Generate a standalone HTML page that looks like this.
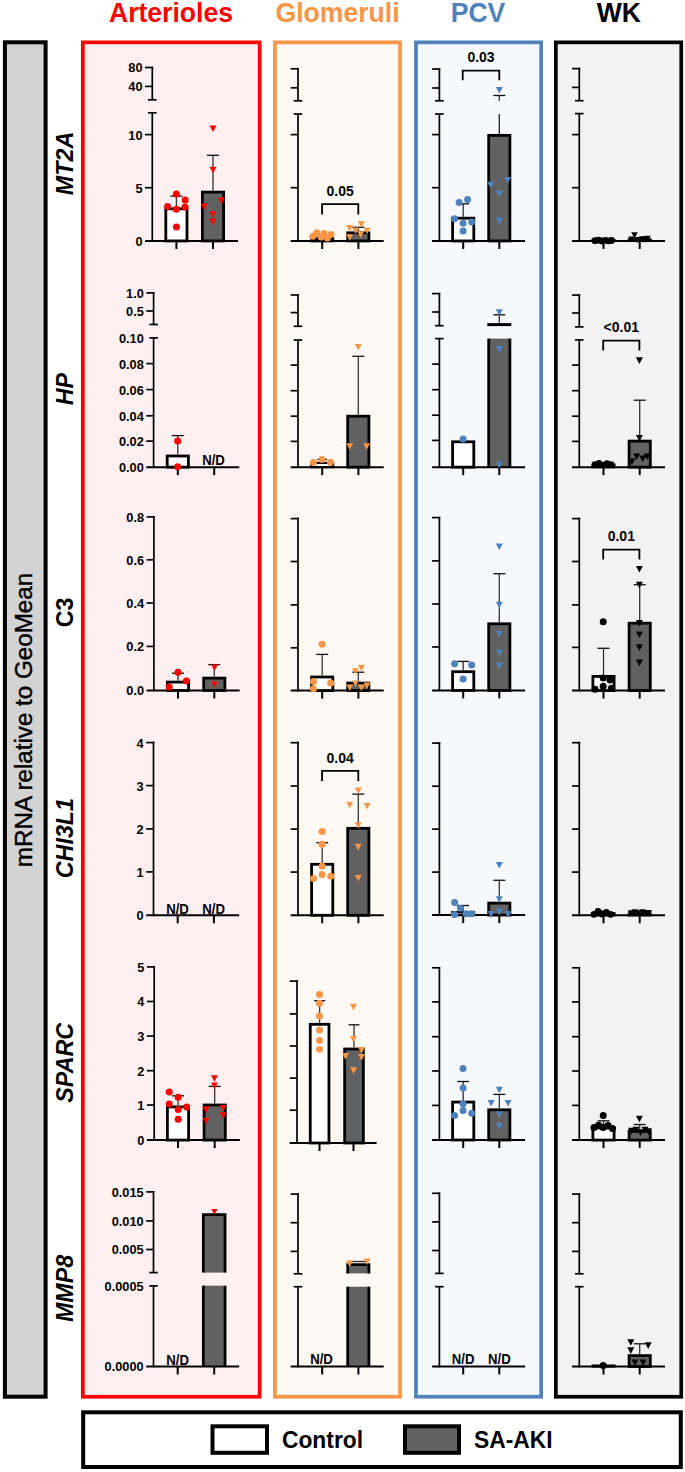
<!DOCTYPE html>
<html><head><meta charset="utf-8"><title>mRNA relative to GeoMean</title><style>
html,body{margin:0;padding:0;background:#fff;}
body{width:685px;height:1472px;overflow:hidden;}
svg{display:block;}
text{font-family:"Liberation Sans",sans-serif;}
.hd{font-size:26.6px;font-weight:bold;}
.lg{font-size:22.8px;font-weight:bold;fill:#000;}
.yl{font-size:24.2px;fill:#000;stroke:#000;stroke-width:0.45px;}
.rl{font-size:23.3px;font-weight:bold;fill:#000;}
.tk{font-size:12.8px;font-weight:bold;fill:#000;}
.pv{font-size:14px;font-weight:bold;fill:#000;}
.nd{font-size:14px;font-weight:bold;fill:#000;}
</style></head>
<body><svg width="685" height="1472" viewBox="0 0 685 1472">
<rect width="685" height="1472" fill="#fff"/>
<rect x="82.85" y="42.35" width="176.8" height="1354.3999999999999" fill="#fef0f0" stroke="#ff0000" stroke-width="3.7"/>
<rect x="274.95000000000005" y="42.35" width="125.09999999999995" height="1354.3999999999999" fill="#fef8f3" stroke="#f79646" stroke-width="3.7"/>
<rect x="415.95000000000005" y="42.35" width="125.19999999999997" height="1354.3999999999999" fill="#f6f8fc" stroke="#4f81bd" stroke-width="3.7"/>
<rect x="555.85" y="42.35" width="125.40000000000002" height="1354.3999999999999" fill="#f2f2f2" stroke="#000000" stroke-width="3.7"/>
<rect x="4.9" y="42.3" width="40.7" height="1354.4" fill="#d3d3d3" stroke="#000" stroke-width="4"/>
<rect x="83.2" y="1412.3" width="597.5999999999999" height="54.700000000000045" fill="#fff" stroke="#000" stroke-width="4"/>
<rect x="212.5" y="1426.3" width="54.5" height="26.5" fill="#fff" stroke="#000" stroke-width="4"/>
<rect x="405" y="1426.3" width="54" height="26.5" fill="#616161" stroke="#000" stroke-width="4"/>
<text transform="translate(282.00,1447.90) scale(1,1.035)" class="lg" text-anchor="start">Control</text>
<text transform="translate(474.00,1447.90) scale(1,1.035)" class="lg" text-anchor="start">SA-AKI</text>
<text transform="translate(171.00,21.60) scale(1,1.035)" class="hd" text-anchor="middle" fill="#ff0000">Arterioles</text>
<text transform="translate(337.50,21.60) scale(1,1.035)" class="hd" text-anchor="middle" fill="#f79646">Glomeruli</text>
<text transform="translate(478.00,21.60) scale(1,1.035)" class="hd" text-anchor="middle" fill="#4f81bd">PCV</text>
<text transform="translate(618.80,21.60) scale(1,1.035)" class="hd" text-anchor="middle" fill="#000000">WK</text>
<text transform="translate(32.3,720.0) rotate(-90)" class="yl" text-anchor="middle">mRNA relative to GeoMean</text>
<text transform="translate(72.5,163.5) rotate(-90)" class="rl" font-style="italic" text-anchor="middle">MT2A</text>
<text transform="translate(72.5,389.1) rotate(-90)" class="rl" font-style="italic" text-anchor="middle">HP</text>
<text transform="translate(72.5,612.4) rotate(-90)" class="rl" text-anchor="middle">C3</text>
<text transform="translate(72.5,838.1) rotate(-90)" class="rl" font-style="italic" text-anchor="middle">CHI3L1</text>
<text transform="translate(72.5,1062.8) rotate(-90)" class="rl" font-style="italic" text-anchor="middle">SPARC</text>
<text transform="translate(72.5,1288.4) rotate(-90)" class="rl" font-style="italic" text-anchor="middle">MMP8</text>
<rect x="165.80" y="208.80" width="21.20" height="32.15" fill="#ffffff" stroke="#000" stroke-width="2.8"/>
<rect x="202.40" y="192.10" width="21.20" height="48.85" fill="#616161" stroke="#000" stroke-width="2.8"/>
<line x1="152.30" y1="112.80" x2="152.30" y2="241.80" stroke="#000" stroke-width="1.7"/>
<line x1="148.00" y1="112.80" x2="156.60" y2="112.80" stroke="#000" stroke-width="1.7"/>
<line x1="145.00" y1="134.60" x2="152.30" y2="134.60" stroke="#000" stroke-width="1.7"/>
<line x1="145.00" y1="187.70" x2="152.30" y2="187.70" stroke="#000" stroke-width="1.7"/>
<line x1="152.30" y1="66.65" x2="152.30" y2="99.80" stroke="#000" stroke-width="1.7"/>
<line x1="145.00" y1="67.50" x2="153.15" y2="67.50" stroke="#000" stroke-width="1.7"/>
<line x1="145.00" y1="86.40" x2="152.30" y2="86.40" stroke="#000" stroke-width="1.7"/>
<line x1="148.00" y1="99.80" x2="156.60" y2="99.80" stroke="#000" stroke-width="1.7"/>
<line x1="145.00" y1="240.95" x2="238.00" y2="240.95" stroke="#000" stroke-width="2"/>
<text transform="translate(142.50,72.40) scale(1,1.035)" class="tk" text-anchor="end">80</text>
<text transform="translate(142.50,91.30) scale(1,1.035)" class="tk" text-anchor="end">40</text>
<text transform="translate(142.50,139.50) scale(1,1.035)" class="tk" text-anchor="end">10</text>
<text transform="translate(142.50,192.60) scale(1,1.035)" class="tk" text-anchor="end">5</text>
<text transform="translate(142.50,245.85) scale(1,1.035)" class="tk" text-anchor="end">0</text>
<line x1="176.40" y1="240.95" x2="176.40" y2="248.95" stroke="#000" stroke-width="2"/>
<line x1="213.00" y1="240.95" x2="213.00" y2="248.95" stroke="#000" stroke-width="2"/>
<line x1="176.40" y1="207.40" x2="176.40" y2="196.10" stroke="#333" stroke-width="1.3"/>
<line x1="170.40" y1="196.10" x2="182.40" y2="196.10" stroke="#111" stroke-width="1.3"/>
<line x1="213.00" y1="190.70" x2="213.00" y2="155.30" stroke="#333" stroke-width="1.3"/>
<line x1="207.00" y1="155.30" x2="219.00" y2="155.30" stroke="#111" stroke-width="1.3"/>
<circle cx="176.40" cy="193.90" r="3.5" fill="#ff0000"/>
<circle cx="185.10" cy="200.00" r="3.5" fill="#ff0000"/>
<circle cx="167.60" cy="206.60" r="3.5" fill="#ff0000"/>
<circle cx="176.40" cy="209.20" r="3.5" fill="#ff0000"/>
<circle cx="185.10" cy="207.00" r="3.5" fill="#ff0000"/>
<circle cx="176.40" cy="227.00" r="3.5" fill="#ff0000"/>
<polygon points="209.50,125.50 216.50,125.50 213.00,132.10" fill="#ff0000"/>
<polygon points="209.50,166.80 216.50,166.80 213.00,173.40" fill="#ff0000"/>
<polygon points="218.10,197.30 225.10,197.30 221.60,203.90" fill="#ff0000"/>
<polygon points="200.60,203.60 207.60,203.60 204.10,210.20" fill="#ff0000"/>
<polygon points="209.40,211.20 216.40,211.20 212.90,217.80" fill="#ff0000"/>
<polygon points="209.40,218.60 216.40,218.60 212.90,225.20" fill="#ff0000"/>
<rect x="311.60" y="238.30" width="21.20" height="2.65" fill="#ffffff" stroke="#000" stroke-width="2.8"/>
<rect x="347.70" y="232.80" width="21.20" height="8.15" fill="#616161" stroke="#000" stroke-width="2.8"/>
<line x1="298.00" y1="114.00" x2="298.00" y2="241.80" stroke="#000" stroke-width="1.7"/>
<line x1="293.70" y1="114.00" x2="302.30" y2="114.00" stroke="#000" stroke-width="1.7"/>
<line x1="290.70" y1="134.60" x2="298.00" y2="134.60" stroke="#000" stroke-width="1.7"/>
<line x1="290.70" y1="187.70" x2="298.00" y2="187.70" stroke="#000" stroke-width="1.7"/>
<line x1="298.00" y1="67.95" x2="298.00" y2="100.80" stroke="#000" stroke-width="1.7"/>
<line x1="290.70" y1="68.80" x2="298.85" y2="68.80" stroke="#000" stroke-width="1.7"/>
<line x1="290.70" y1="87.80" x2="298.00" y2="87.80" stroke="#000" stroke-width="1.7"/>
<line x1="293.70" y1="100.80" x2="302.30" y2="100.80" stroke="#000" stroke-width="1.7"/>
<line x1="290.70" y1="240.95" x2="383.70" y2="240.95" stroke="#000" stroke-width="2"/>
<line x1="322.20" y1="240.95" x2="322.20" y2="248.95" stroke="#000" stroke-width="2"/>
<line x1="358.40" y1="240.95" x2="358.40" y2="248.95" stroke="#000" stroke-width="2"/>
<line x1="358.30" y1="231.40" x2="358.30" y2="227.30" stroke="#333" stroke-width="1.3"/>
<line x1="352.30" y1="227.30" x2="364.30" y2="227.30" stroke="#111" stroke-width="1.3"/>
<circle cx="312.80" cy="236.30" r="3.5" fill="#f79646"/>
<circle cx="316.90" cy="232.80" r="3.5" fill="#f79646"/>
<circle cx="321.00" cy="236.90" r="3.5" fill="#f79646"/>
<circle cx="323.90" cy="233.40" r="3.5" fill="#f79646"/>
<circle cx="327.40" cy="238.00" r="3.5" fill="#f79646"/>
<circle cx="331.00" cy="234.50" r="3.5" fill="#f79646"/>
<polygon points="346.10,225.10 353.10,225.10 349.60,231.70" fill="#f79646"/>
<polygon points="352.00,227.40 359.00,227.40 355.50,234.00" fill="#f79646"/>
<polygon points="357.80,221.10 364.80,221.10 361.30,227.70" fill="#f79646"/>
<polygon points="363.60,227.70 370.60,227.70 367.10,234.30" fill="#f79646"/>
<polygon points="346.10,234.20 353.10,234.20 349.60,240.80" fill="#f79646"/>
<polygon points="357.20,231.30 364.20,231.30 360.70,237.90" fill="#f79646"/>
<polyline points="322.1,214.6 322.1,204.1 358.3,204.1 358.3,214.6" fill="none" stroke="#000" stroke-width="1.8"/>
<text transform="translate(340.20,196.30) scale(1,1.035)" class="pv" text-anchor="middle">0.05</text>
<rect x="452.60" y="218.20" width="21.20" height="22.75" fill="#ffffff" stroke="#000" stroke-width="2.8"/>
<rect x="488.70" y="135.40" width="21.20" height="105.55" fill="#616161" stroke="#000" stroke-width="2.8"/>
<line x1="439.40" y1="114.00" x2="439.40" y2="241.80" stroke="#000" stroke-width="1.7"/>
<line x1="435.10" y1="114.00" x2="443.70" y2="114.00" stroke="#000" stroke-width="1.7"/>
<line x1="432.10" y1="134.60" x2="439.40" y2="134.60" stroke="#000" stroke-width="1.7"/>
<line x1="432.10" y1="187.70" x2="439.40" y2="187.70" stroke="#000" stroke-width="1.7"/>
<line x1="439.40" y1="68.15" x2="439.40" y2="100.80" stroke="#000" stroke-width="1.7"/>
<line x1="432.10" y1="69.00" x2="440.25" y2="69.00" stroke="#000" stroke-width="1.7"/>
<line x1="432.10" y1="88.00" x2="439.40" y2="88.00" stroke="#000" stroke-width="1.7"/>
<line x1="435.10" y1="100.80" x2="443.70" y2="100.80" stroke="#000" stroke-width="1.7"/>
<line x1="432.10" y1="240.95" x2="525.10" y2="240.95" stroke="#000" stroke-width="2"/>
<line x1="463.20" y1="240.95" x2="463.20" y2="248.95" stroke="#000" stroke-width="2"/>
<line x1="499.30" y1="240.95" x2="499.30" y2="248.95" stroke="#000" stroke-width="2"/>
<line x1="463.20" y1="216.80" x2="463.20" y2="203.80" stroke="#333" stroke-width="1.3"/>
<line x1="457.20" y1="203.80" x2="469.20" y2="203.80" stroke="#111" stroke-width="1.3"/>
<line x1="499.30" y1="134.00" x2="499.30" y2="114.00" stroke="#222" stroke-width="1.3"/>
<line x1="499.30" y1="101.00" x2="499.30" y2="95.50" stroke="#333" stroke-width="1.3"/>
<line x1="493.30" y1="95.50" x2="505.30" y2="95.50" stroke="#111" stroke-width="1.3"/>
<circle cx="459.10" cy="202.50" r="3.5" fill="#4f81bd"/>
<circle cx="467.60" cy="199.40" r="3.5" fill="#4f81bd"/>
<circle cx="454.60" cy="218.80" r="3.5" fill="#4f81bd"/>
<circle cx="463.10" cy="223.30" r="3.5" fill="#4f81bd"/>
<circle cx="471.70" cy="221.90" r="3.5" fill="#4f81bd"/>
<circle cx="463.10" cy="231.10" r="3.5" fill="#4f81bd"/>
<polygon points="495.80,87.00 502.80,87.00 499.30,93.60" fill="#4f81bd"/>
<polygon points="487.20,181.80 494.20,181.80 490.70,188.40" fill="#4f81bd"/>
<polygon points="504.20,176.90 511.20,176.90 507.70,183.50" fill="#4f81bd"/>
<polygon points="495.80,190.60 502.80,190.60 499.30,197.20" fill="#4f81bd"/>
<polygon points="495.80,217.60 502.80,217.60 499.30,224.20" fill="#4f81bd"/>
<polyline points="462.7,80.3 462.7,70.7 499.3,70.7 499.3,80.3" fill="none" stroke="#000" stroke-width="1.8"/>
<text transform="translate(481.00,61.50) scale(1,1.035)" class="pv" text-anchor="middle">0.03</text>
<rect x="592.60" y="239.90" width="21.80" height="1.05" fill="#ffffff" stroke="#000" stroke-width="2.2"/>
<rect x="628.80" y="239.40" width="21.80" height="1.55" fill="#616161" stroke="#000" stroke-width="2.2"/>
<line x1="579.30" y1="113.60" x2="579.30" y2="241.80" stroke="#000" stroke-width="1.7"/>
<line x1="575.00" y1="113.60" x2="583.60" y2="113.60" stroke="#000" stroke-width="1.7"/>
<line x1="572.00" y1="134.60" x2="579.30" y2="134.60" stroke="#000" stroke-width="1.7"/>
<line x1="572.00" y1="187.70" x2="579.30" y2="187.70" stroke="#000" stroke-width="1.7"/>
<line x1="579.30" y1="67.75" x2="579.30" y2="100.70" stroke="#000" stroke-width="1.7"/>
<line x1="572.00" y1="68.60" x2="580.15" y2="68.60" stroke="#000" stroke-width="1.7"/>
<line x1="572.00" y1="87.40" x2="579.30" y2="87.40" stroke="#000" stroke-width="1.7"/>
<line x1="575.00" y1="100.70" x2="583.60" y2="100.70" stroke="#000" stroke-width="1.7"/>
<line x1="572.00" y1="240.95" x2="665.00" y2="240.95" stroke="#000" stroke-width="2"/>
<line x1="603.50" y1="240.95" x2="603.50" y2="248.95" stroke="#000" stroke-width="2"/>
<line x1="639.70" y1="240.95" x2="639.70" y2="248.95" stroke="#000" stroke-width="2"/>
<circle cx="595.00" cy="240.70" r="3.4" fill="#000000"/>
<circle cx="598.50" cy="240.20" r="3.4" fill="#000000"/>
<circle cx="602.00" cy="241.00" r="3.4" fill="#000000"/>
<circle cx="605.50" cy="240.30" r="3.4" fill="#000000"/>
<circle cx="608.50" cy="240.80" r="3.4" fill="#000000"/>
<circle cx="611.50" cy="240.50" r="3.4" fill="#000000"/>
<polygon points="631.20,232.20 637.80,232.20 634.50,238.20" fill="#000000"/>
<polygon points="628.20,236.50 634.80,236.50 631.50,242.50" fill="#000000"/>
<polygon points="634.20,237.00 640.80,237.00 637.50,243.00" fill="#000000"/>
<polygon points="639.20,236.20 645.80,236.20 642.50,242.20" fill="#000000"/>
<polygon points="644.20,235.80 650.80,235.80 647.50,241.80" fill="#000000"/>
<polygon points="641.20,236.70 647.80,236.70 644.50,242.70" fill="#000000"/>
<rect x="167.20" y="456.00" width="21.20" height="11.15" fill="#ffffff" stroke="#000" stroke-width="2.8"/>
<line x1="153.60" y1="337.90" x2="153.60" y2="468.00" stroke="#000" stroke-width="1.7"/>
<line x1="149.30" y1="337.90" x2="157.90" y2="337.90" stroke="#000" stroke-width="1.7"/>
<line x1="146.30" y1="363.60" x2="153.60" y2="363.60" stroke="#000" stroke-width="1.7"/>
<line x1="146.30" y1="389.60" x2="153.60" y2="389.60" stroke="#000" stroke-width="1.7"/>
<line x1="146.30" y1="415.80" x2="153.60" y2="415.80" stroke="#000" stroke-width="1.7"/>
<line x1="146.30" y1="441.10" x2="153.60" y2="441.10" stroke="#000" stroke-width="1.7"/>
<line x1="153.60" y1="292.05" x2="153.60" y2="324.50" stroke="#000" stroke-width="1.7"/>
<line x1="146.30" y1="292.90" x2="154.45" y2="292.90" stroke="#000" stroke-width="1.7"/>
<line x1="146.30" y1="311.00" x2="153.60" y2="311.00" stroke="#000" stroke-width="1.7"/>
<line x1="149.30" y1="324.50" x2="157.90" y2="324.50" stroke="#000" stroke-width="1.7"/>
<line x1="146.30" y1="467.15" x2="239.30" y2="467.15" stroke="#000" stroke-width="2"/>
<text transform="translate(143.80,297.80) scale(1,1.035)" class="tk" text-anchor="end">1.0</text>
<text transform="translate(143.80,315.90) scale(1,1.035)" class="tk" text-anchor="end">0.5</text>
<text transform="translate(143.80,342.80) scale(1,1.035)" class="tk" text-anchor="end">0.10</text>
<text transform="translate(143.80,368.50) scale(1,1.035)" class="tk" text-anchor="end">0.08</text>
<text transform="translate(143.80,394.50) scale(1,1.035)" class="tk" text-anchor="end">0.06</text>
<text transform="translate(143.80,420.70) scale(1,1.035)" class="tk" text-anchor="end">0.04</text>
<text transform="translate(143.80,446.00) scale(1,1.035)" class="tk" text-anchor="end">0.02</text>
<text transform="translate(143.80,472.05) scale(1,1.035)" class="tk" text-anchor="end">0.00</text>
<line x1="177.80" y1="467.15" x2="177.80" y2="475.15" stroke="#000" stroke-width="2"/>
<line x1="214.20" y1="467.15" x2="214.20" y2="475.15" stroke="#000" stroke-width="2"/>
<line x1="177.80" y1="454.60" x2="177.80" y2="435.60" stroke="#333" stroke-width="1.3"/>
<line x1="171.80" y1="435.60" x2="183.80" y2="435.60" stroke="#111" stroke-width="1.3"/>
<circle cx="177.70" cy="440.90" r="3.5" fill="#ff0000"/>
<circle cx="177.70" cy="466.70" r="3.5" fill="#ff0000"/>
<text transform="translate(213.50,464.50) scale(1,1.035)" class="nd" text-anchor="middle" textLength="22.7" lengthAdjust="spacingAndGlyphs">N/D</text>
<rect x="311.30" y="462.90" width="21.80" height="4.25" fill="#ffffff" stroke="#000" stroke-width="2.2"/>
<rect x="347.70" y="416.20" width="21.20" height="50.95" fill="#616161" stroke="#000" stroke-width="2.8"/>
<line x1="298.00" y1="340.00" x2="298.00" y2="468.00" stroke="#000" stroke-width="1.7"/>
<line x1="293.70" y1="340.00" x2="302.30" y2="340.00" stroke="#000" stroke-width="1.7"/>
<line x1="290.70" y1="365.10" x2="298.00" y2="365.10" stroke="#000" stroke-width="1.7"/>
<line x1="290.70" y1="390.70" x2="298.00" y2="390.70" stroke="#000" stroke-width="1.7"/>
<line x1="290.70" y1="416.20" x2="298.00" y2="416.20" stroke="#000" stroke-width="1.7"/>
<line x1="290.70" y1="441.40" x2="298.00" y2="441.40" stroke="#000" stroke-width="1.7"/>
<line x1="298.00" y1="294.15" x2="298.00" y2="326.30" stroke="#000" stroke-width="1.7"/>
<line x1="290.70" y1="295.00" x2="298.85" y2="295.00" stroke="#000" stroke-width="1.7"/>
<line x1="290.70" y1="312.60" x2="298.00" y2="312.60" stroke="#000" stroke-width="1.7"/>
<line x1="293.70" y1="326.30" x2="302.30" y2="326.30" stroke="#000" stroke-width="1.7"/>
<line x1="290.70" y1="467.15" x2="383.70" y2="467.15" stroke="#000" stroke-width="2"/>
<line x1="322.20" y1="467.15" x2="322.20" y2="475.15" stroke="#000" stroke-width="2"/>
<line x1="358.40" y1="467.15" x2="358.40" y2="475.15" stroke="#000" stroke-width="2"/>
<line x1="322.20" y1="461.80" x2="322.20" y2="459.40" stroke="#333" stroke-width="1.3"/>
<line x1="317.20" y1="459.40" x2="327.20" y2="459.40" stroke="#111" stroke-width="1.3"/>
<line x1="358.30" y1="414.80" x2="358.30" y2="356.30" stroke="#333" stroke-width="1.3"/>
<line x1="352.30" y1="356.30" x2="364.30" y2="356.30" stroke="#111" stroke-width="1.3"/>
<circle cx="313.40" cy="462.60" r="3.5" fill="#f79646"/>
<circle cx="322.10" cy="459.40" r="3.5" fill="#f79646"/>
<circle cx="330.50" cy="462.30" r="3.5" fill="#f79646"/>
<polygon points="354.80,344.00 361.80,344.00 358.30,350.60" fill="#f79646"/>
<polygon points="346.20,443.20 353.20,443.20 349.70,449.80" fill="#f79646"/>
<polygon points="363.20,443.20 370.20,443.20 366.70,449.80" fill="#f79646"/>
<rect x="452.60" y="441.80" width="21.20" height="25.35" fill="#ffffff" stroke="#000" stroke-width="2.8"/>
<rect x="488.70" y="338.60" width="21.20" height="128.55" fill="#616161"/>
<line x1="488.70" y1="338.60" x2="488.70" y2="467.15" stroke="#000" stroke-width="2.8"/>
<line x1="509.90" y1="338.60" x2="509.90" y2="467.15" stroke="#000" stroke-width="2.8"/>
<line x1="439.40" y1="338.60" x2="439.40" y2="468.00" stroke="#000" stroke-width="1.7"/>
<line x1="435.10" y1="338.60" x2="443.70" y2="338.60" stroke="#000" stroke-width="1.7"/>
<line x1="432.10" y1="364.10" x2="439.40" y2="364.10" stroke="#000" stroke-width="1.7"/>
<line x1="432.10" y1="389.70" x2="439.40" y2="389.70" stroke="#000" stroke-width="1.7"/>
<line x1="432.10" y1="415.20" x2="439.40" y2="415.20" stroke="#000" stroke-width="1.7"/>
<line x1="432.10" y1="440.40" x2="439.40" y2="440.40" stroke="#000" stroke-width="1.7"/>
<line x1="439.40" y1="292.75" x2="439.40" y2="325.70" stroke="#000" stroke-width="1.7"/>
<line x1="432.10" y1="293.60" x2="440.25" y2="293.60" stroke="#000" stroke-width="1.7"/>
<line x1="432.10" y1="312.00" x2="439.40" y2="312.00" stroke="#000" stroke-width="1.7"/>
<line x1="435.10" y1="325.70" x2="443.70" y2="325.70" stroke="#000" stroke-width="1.7"/>
<line x1="432.10" y1="467.15" x2="525.10" y2="467.15" stroke="#000" stroke-width="2"/>
<line x1="463.20" y1="467.15" x2="463.20" y2="475.15" stroke="#000" stroke-width="2"/>
<line x1="499.30" y1="467.15" x2="499.30" y2="475.15" stroke="#000" stroke-width="2"/>
<line x1="487.30" y1="324.60" x2="511.30" y2="324.60" stroke="#000" stroke-width="3"/>
<line x1="499.30" y1="324.00" x2="499.30" y2="314.80" stroke="#333" stroke-width="1.3"/>
<line x1="493.30" y1="314.80" x2="505.30" y2="314.80" stroke="#111" stroke-width="1.3"/>
<circle cx="463.10" cy="439.10" r="3.5" fill="#4f81bd"/>
<polygon points="495.80,309.30 502.80,309.30 499.30,315.90" fill="#4f81bd"/>
<polygon points="495.80,346.10 502.80,346.10 499.30,352.70" fill="#4f81bd"/>
<polygon points="495.80,461.60 502.80,461.60 499.30,468.20" fill="#4f81bd"/>
<rect x="592.60" y="464.60" width="21.80" height="2.55" fill="#ffffff" stroke="#000" stroke-width="2.2"/>
<rect x="629.10" y="441.10" width="21.20" height="26.05" fill="#616161" stroke="#000" stroke-width="2.8"/>
<line x1="579.30" y1="339.90" x2="579.30" y2="468.00" stroke="#000" stroke-width="1.7"/>
<line x1="575.00" y1="339.90" x2="583.60" y2="339.90" stroke="#000" stroke-width="1.7"/>
<line x1="572.00" y1="365.10" x2="579.30" y2="365.10" stroke="#000" stroke-width="1.7"/>
<line x1="572.00" y1="390.70" x2="579.30" y2="390.70" stroke="#000" stroke-width="1.7"/>
<line x1="572.00" y1="416.20" x2="579.30" y2="416.20" stroke="#000" stroke-width="1.7"/>
<line x1="572.00" y1="441.40" x2="579.30" y2="441.40" stroke="#000" stroke-width="1.7"/>
<line x1="579.30" y1="294.25" x2="579.30" y2="326.90" stroke="#000" stroke-width="1.7"/>
<line x1="572.00" y1="295.10" x2="580.15" y2="295.10" stroke="#000" stroke-width="1.7"/>
<line x1="572.00" y1="313.00" x2="579.30" y2="313.00" stroke="#000" stroke-width="1.7"/>
<line x1="575.00" y1="326.90" x2="583.60" y2="326.90" stroke="#000" stroke-width="1.7"/>
<line x1="572.00" y1="467.15" x2="665.00" y2="467.15" stroke="#000" stroke-width="2"/>
<line x1="603.50" y1="467.15" x2="603.50" y2="475.15" stroke="#000" stroke-width="2"/>
<line x1="639.70" y1="467.15" x2="639.70" y2="475.15" stroke="#000" stroke-width="2"/>
<line x1="639.70" y1="439.70" x2="639.70" y2="400.20" stroke="#333" stroke-width="1.3"/>
<line x1="633.70" y1="400.20" x2="645.70" y2="400.20" stroke="#111" stroke-width="1.3"/>
<circle cx="595.00" cy="464.50" r="3.3" fill="#000000"/>
<circle cx="599.00" cy="463.30" r="3.3" fill="#000000"/>
<circle cx="603.00" cy="465.00" r="3.3" fill="#000000"/>
<circle cx="607.00" cy="463.50" r="3.3" fill="#000000"/>
<circle cx="611.00" cy="464.50" r="3.3" fill="#000000"/>
<polygon points="635.90,357.30 642.90,357.30 639.40,363.90" fill="#000000"/>
<polygon points="635.90,435.00 642.90,435.00 639.40,441.60" fill="#000000"/>
<polygon points="633.10,453.40 640.10,453.40 636.60,460.00" fill="#000000"/>
<polygon points="639.20,455.40 646.20,455.40 642.70,462.00" fill="#000000"/>
<polygon points="643.70,453.40 650.70,453.40 647.20,460.00" fill="#000000"/>
<polygon points="628.40,458.50 635.40,458.50 631.90,465.10" fill="#000000"/>
<polyline points="603.2,350.40000000000003 603.2,340.6 639.4,340.6 639.4,350.40000000000003" fill="none" stroke="#000" stroke-width="1.8"/>
<text transform="translate(621.30,332.00) scale(1,1.035)" class="pv" text-anchor="middle">&lt;0.01</text>
<rect x="167.40" y="682.10" width="21.20" height="8.35" fill="#ffffff" stroke="#000" stroke-width="2.8"/>
<rect x="203.70" y="678.10" width="21.20" height="12.35" fill="#616161" stroke="#000" stroke-width="2.8"/>
<line x1="153.90" y1="516.05" x2="153.90" y2="691.30" stroke="#000" stroke-width="1.7"/>
<line x1="146.60" y1="516.90" x2="154.75" y2="516.90" stroke="#000" stroke-width="1.7"/>
<line x1="146.60" y1="559.80" x2="153.90" y2="559.80" stroke="#000" stroke-width="1.7"/>
<line x1="146.60" y1="603.00" x2="153.90" y2="603.00" stroke="#000" stroke-width="1.7"/>
<line x1="146.60" y1="646.40" x2="153.90" y2="646.40" stroke="#000" stroke-width="1.7"/>
<line x1="146.60" y1="690.45" x2="239.60" y2="690.45" stroke="#000" stroke-width="2"/>
<text transform="translate(144.10,521.80) scale(1,1.035)" class="tk" text-anchor="end">0.8</text>
<text transform="translate(144.10,564.70) scale(1,1.035)" class="tk" text-anchor="end">0.6</text>
<text transform="translate(144.10,607.90) scale(1,1.035)" class="tk" text-anchor="end">0.4</text>
<text transform="translate(144.10,651.30) scale(1,1.035)" class="tk" text-anchor="end">0.2</text>
<text transform="translate(144.10,695.35) scale(1,1.035)" class="tk" text-anchor="end">0.0</text>
<line x1="178.00" y1="690.45" x2="178.00" y2="698.45" stroke="#000" stroke-width="2"/>
<line x1="214.30" y1="690.45" x2="214.30" y2="698.45" stroke="#000" stroke-width="2"/>
<line x1="178.00" y1="680.70" x2="178.00" y2="673.20" stroke="#333" stroke-width="1.3"/>
<line x1="172.00" y1="673.20" x2="184.00" y2="673.20" stroke="#111" stroke-width="1.3"/>
<line x1="214.30" y1="676.70" x2="214.30" y2="664.60" stroke="#333" stroke-width="1.3"/>
<line x1="208.30" y1="664.60" x2="220.30" y2="664.60" stroke="#111" stroke-width="1.3"/>
<circle cx="178.00" cy="672.30" r="3.5" fill="#ff0000"/>
<circle cx="186.40" cy="681.00" r="3.5" fill="#ff0000"/>
<circle cx="169.20" cy="686.90" r="3.5" fill="#ff0000"/>
<polygon points="211.00,664.50 218.00,664.50 214.50,671.10" fill="#ff0000"/>
<polygon points="211.00,681.20 218.00,681.20 214.50,687.80" fill="#ff0000"/>
<rect x="311.60" y="677.00" width="21.20" height="13.60" fill="#ffffff" stroke="#000" stroke-width="2.8"/>
<rect x="347.70" y="683.10" width="21.20" height="7.50" fill="#616161" stroke="#000" stroke-width="2.8"/>
<line x1="298.00" y1="517.75" x2="298.00" y2="691.45" stroke="#000" stroke-width="1.7"/>
<line x1="290.70" y1="518.60" x2="298.85" y2="518.60" stroke="#000" stroke-width="1.7"/>
<line x1="290.70" y1="561.50" x2="298.00" y2="561.50" stroke="#000" stroke-width="1.7"/>
<line x1="290.70" y1="604.90" x2="298.00" y2="604.90" stroke="#000" stroke-width="1.7"/>
<line x1="290.70" y1="647.80" x2="298.00" y2="647.80" stroke="#000" stroke-width="1.7"/>
<line x1="290.70" y1="690.60" x2="383.70" y2="690.60" stroke="#000" stroke-width="2"/>
<line x1="322.20" y1="690.60" x2="322.20" y2="698.60" stroke="#000" stroke-width="2"/>
<line x1="358.40" y1="690.60" x2="358.40" y2="698.60" stroke="#000" stroke-width="2"/>
<line x1="322.20" y1="675.60" x2="322.20" y2="654.40" stroke="#333" stroke-width="1.3"/>
<line x1="316.20" y1="654.40" x2="328.20" y2="654.40" stroke="#111" stroke-width="1.3"/>
<line x1="358.30" y1="681.70" x2="358.30" y2="672.20" stroke="#333" stroke-width="1.3"/>
<line x1="352.30" y1="672.20" x2="364.30" y2="672.20" stroke="#111" stroke-width="1.3"/>
<circle cx="322.10" cy="644.30" r="3.5" fill="#f79646"/>
<circle cx="313.50" cy="681.50" r="3.5" fill="#f79646"/>
<circle cx="330.70" cy="683.10" r="3.5" fill="#f79646"/>
<circle cx="313.50" cy="688.70" r="3.5" fill="#f79646"/>
<polygon points="357.90,664.70 364.90,664.70 361.40,671.30" fill="#f79646"/>
<polygon points="351.90,668.20 358.90,668.20 355.40,674.80" fill="#f79646"/>
<polygon points="351.90,680.40 358.90,680.40 355.40,687.00" fill="#f79646"/>
<polygon points="346.20,684.50 353.20,684.50 349.70,691.10" fill="#f79646"/>
<polygon points="357.90,684.50 364.90,684.50 361.40,691.10" fill="#f79646"/>
<polygon points="363.60,682.50 370.60,682.50 367.10,689.10" fill="#f79646"/>
<rect x="452.60" y="671.70" width="21.20" height="18.70" fill="#ffffff" stroke="#000" stroke-width="2.8"/>
<rect x="488.70" y="623.80" width="21.20" height="66.60" fill="#616161" stroke="#000" stroke-width="2.8"/>
<line x1="439.40" y1="516.75" x2="439.40" y2="691.25" stroke="#000" stroke-width="1.7"/>
<line x1="432.10" y1="517.60" x2="440.25" y2="517.60" stroke="#000" stroke-width="1.7"/>
<line x1="432.10" y1="560.90" x2="439.40" y2="560.90" stroke="#000" stroke-width="1.7"/>
<line x1="432.10" y1="604.00" x2="439.40" y2="604.00" stroke="#000" stroke-width="1.7"/>
<line x1="432.10" y1="647.00" x2="439.40" y2="647.00" stroke="#000" stroke-width="1.7"/>
<line x1="432.10" y1="690.40" x2="525.10" y2="690.40" stroke="#000" stroke-width="2"/>
<line x1="463.20" y1="690.40" x2="463.20" y2="698.40" stroke="#000" stroke-width="2"/>
<line x1="499.30" y1="690.40" x2="499.30" y2="698.40" stroke="#000" stroke-width="2"/>
<line x1="463.20" y1="670.30" x2="463.20" y2="661.40" stroke="#333" stroke-width="1.3"/>
<line x1="457.20" y1="661.40" x2="469.20" y2="661.40" stroke="#111" stroke-width="1.3"/>
<line x1="499.30" y1="622.40" x2="499.30" y2="573.70" stroke="#333" stroke-width="1.3"/>
<line x1="493.30" y1="573.70" x2="505.30" y2="573.70" stroke="#111" stroke-width="1.3"/>
<circle cx="454.60" cy="663.70" r="3.5" fill="#4f81bd"/>
<circle cx="471.70" cy="665.10" r="3.5" fill="#4f81bd"/>
<circle cx="463.10" cy="679.00" r="3.5" fill="#4f81bd"/>
<polygon points="495.80,543.50 502.80,543.50 499.30,550.10" fill="#4f81bd"/>
<polygon points="495.80,601.70 502.80,601.70 499.30,608.30" fill="#4f81bd"/>
<polygon points="495.80,631.00 502.80,631.00 499.30,637.60" fill="#4f81bd"/>
<polygon points="495.80,649.40 502.80,649.40 499.30,656.00" fill="#4f81bd"/>
<polygon points="495.80,662.40 502.80,662.40 499.30,669.00" fill="#4f81bd"/>
<rect x="592.90" y="676.40" width="21.20" height="14.20" fill="#ffffff" stroke="#000" stroke-width="2.8"/>
<rect x="629.10" y="623.20" width="21.20" height="67.40" fill="#616161" stroke="#000" stroke-width="2.8"/>
<line x1="579.30" y1="517.75" x2="579.30" y2="691.45" stroke="#000" stroke-width="1.7"/>
<line x1="572.00" y1="518.60" x2="580.15" y2="518.60" stroke="#000" stroke-width="1.7"/>
<line x1="572.00" y1="561.50" x2="579.30" y2="561.50" stroke="#000" stroke-width="1.7"/>
<line x1="572.00" y1="604.90" x2="579.30" y2="604.90" stroke="#000" stroke-width="1.7"/>
<line x1="572.00" y1="647.40" x2="579.30" y2="647.40" stroke="#000" stroke-width="1.7"/>
<line x1="572.00" y1="690.60" x2="665.00" y2="690.60" stroke="#000" stroke-width="2"/>
<line x1="603.50" y1="690.60" x2="603.50" y2="698.60" stroke="#000" stroke-width="2"/>
<line x1="639.70" y1="690.60" x2="639.70" y2="698.60" stroke="#000" stroke-width="2"/>
<line x1="603.50" y1="675.00" x2="603.50" y2="648.30" stroke="#333" stroke-width="1.3"/>
<line x1="597.50" y1="648.30" x2="609.50" y2="648.30" stroke="#111" stroke-width="1.3"/>
<line x1="639.70" y1="621.80" x2="639.70" y2="584.70" stroke="#333" stroke-width="1.3"/>
<line x1="633.70" y1="584.70" x2="645.70" y2="584.70" stroke="#111" stroke-width="1.3"/>
<circle cx="603.20" cy="621.80" r="3.5" fill="#000000"/>
<circle cx="603.20" cy="678.00" r="3.5" fill="#000000"/>
<circle cx="610.00" cy="680.00" r="3.5" fill="#000000"/>
<circle cx="603.20" cy="686.20" r="3.5" fill="#000000"/>
<circle cx="595.10" cy="689.30" r="3.5" fill="#000000"/>
<circle cx="611.40" cy="688.20" r="3.5" fill="#000000"/>
<polygon points="635.90,566.00 642.90,566.00 639.40,572.60" fill="#000000"/>
<polygon points="635.90,581.70 642.90,581.70 639.40,588.30" fill="#000000"/>
<polygon points="635.90,620.10 642.90,620.10 639.40,626.70" fill="#000000"/>
<polygon points="635.90,631.40 642.90,631.40 639.40,638.00" fill="#000000"/>
<polygon points="635.90,644.30 642.90,644.30 639.40,650.90" fill="#000000"/>
<polygon points="635.90,659.60 642.90,659.60 639.40,666.20" fill="#000000"/>
<polyline points="603.2,559.5 603.2,549.7 639.4,549.7 639.4,559.5" fill="none" stroke="#000" stroke-width="1.8"/>
<text transform="translate(621.30,541.10) scale(1,1.035)" class="pv" text-anchor="middle">0.01</text>
<line x1="153.50" y1="741.75" x2="153.50" y2="916.15" stroke="#000" stroke-width="1.7"/>
<line x1="146.20" y1="742.60" x2="154.35" y2="742.60" stroke="#000" stroke-width="1.7"/>
<line x1="146.20" y1="785.60" x2="153.50" y2="785.60" stroke="#000" stroke-width="1.7"/>
<line x1="146.20" y1="828.90" x2="153.50" y2="828.90" stroke="#000" stroke-width="1.7"/>
<line x1="146.20" y1="871.90" x2="153.50" y2="871.90" stroke="#000" stroke-width="1.7"/>
<line x1="146.20" y1="915.30" x2="239.20" y2="915.30" stroke="#000" stroke-width="2"/>
<text transform="translate(143.70,747.50) scale(1,1.035)" class="tk" text-anchor="end">4</text>
<text transform="translate(143.70,790.50) scale(1,1.035)" class="tk" text-anchor="end">3</text>
<text transform="translate(143.70,833.80) scale(1,1.035)" class="tk" text-anchor="end">2</text>
<text transform="translate(143.70,876.80) scale(1,1.035)" class="tk" text-anchor="end">1</text>
<text transform="translate(143.70,920.20) scale(1,1.035)" class="tk" text-anchor="end">0</text>
<line x1="177.70" y1="915.30" x2="177.70" y2="923.30" stroke="#000" stroke-width="2"/>
<line x1="213.90" y1="915.30" x2="213.90" y2="923.30" stroke="#000" stroke-width="2"/>
<text transform="translate(177.50,913.50) scale(1,1.035)" class="nd" text-anchor="middle" textLength="22.7" lengthAdjust="spacingAndGlyphs">N/D</text>
<text transform="translate(213.60,913.50) scale(1,1.035)" class="nd" text-anchor="middle" textLength="22.7" lengthAdjust="spacingAndGlyphs">N/D</text>
<rect x="311.60" y="864.30" width="21.20" height="51.00" fill="#ffffff" stroke="#000" stroke-width="2.8"/>
<rect x="347.70" y="828.30" width="21.20" height="87.00" fill="#616161" stroke="#000" stroke-width="2.8"/>
<line x1="298.00" y1="741.85" x2="298.00" y2="916.15" stroke="#000" stroke-width="1.7"/>
<line x1="290.70" y1="742.70" x2="298.85" y2="742.70" stroke="#000" stroke-width="1.7"/>
<line x1="290.70" y1="786.00" x2="298.00" y2="786.00" stroke="#000" stroke-width="1.7"/>
<line x1="290.70" y1="829.10" x2="298.00" y2="829.10" stroke="#000" stroke-width="1.7"/>
<line x1="290.70" y1="872.10" x2="298.00" y2="872.10" stroke="#000" stroke-width="1.7"/>
<line x1="290.70" y1="915.30" x2="383.70" y2="915.30" stroke="#000" stroke-width="2"/>
<line x1="322.20" y1="915.30" x2="322.20" y2="923.30" stroke="#000" stroke-width="2"/>
<line x1="358.40" y1="915.30" x2="358.40" y2="923.30" stroke="#000" stroke-width="2"/>
<line x1="322.20" y1="862.90" x2="322.20" y2="842.70" stroke="#333" stroke-width="1.3"/>
<line x1="316.20" y1="842.70" x2="328.20" y2="842.70" stroke="#111" stroke-width="1.3"/>
<line x1="358.30" y1="826.90" x2="358.30" y2="794.10" stroke="#333" stroke-width="1.3"/>
<line x1="352.30" y1="794.10" x2="364.30" y2="794.10" stroke="#111" stroke-width="1.3"/>
<circle cx="322.10" cy="831.60" r="3.5" fill="#f79646"/>
<circle cx="322.10" cy="844.30" r="3.5" fill="#f79646"/>
<circle cx="322.10" cy="866.30" r="3.5" fill="#f79646"/>
<circle cx="322.10" cy="874.50" r="3.5" fill="#f79646"/>
<circle cx="313.50" cy="878.60" r="3.5" fill="#f79646"/>
<circle cx="330.70" cy="876.20" r="3.5" fill="#f79646"/>
<polygon points="354.80,787.60 361.80,787.60 358.30,794.20" fill="#f79646"/>
<polygon points="346.20,801.70 353.20,801.70 349.70,808.30" fill="#f79646"/>
<polygon points="363.60,802.90 370.60,802.90 367.10,809.50" fill="#f79646"/>
<polygon points="354.80,822.20 361.80,822.20 358.30,828.80" fill="#f79646"/>
<polygon points="354.80,843.80 361.80,843.80 358.30,850.40" fill="#f79646"/>
<polygon points="354.80,874.90 361.80,874.90 358.30,881.50" fill="#f79646"/>
<polyline points="322.1,780.9 322.1,770.9 358.3,770.9 358.3,780.9" fill="none" stroke="#000" stroke-width="1.8"/>
<text transform="translate(340.20,762.70) scale(1,1.035)" class="pv" text-anchor="middle">0.04</text>
<rect x="452.40" y="912.20" width="21.60" height="2.90" fill="#ffffff" stroke="#000" stroke-width="2.4"/>
<rect x="488.70" y="903.10" width="21.20" height="12.00" fill="#616161" stroke="#000" stroke-width="2.8"/>
<line x1="439.40" y1="742.25" x2="439.40" y2="915.95" stroke="#000" stroke-width="1.7"/>
<line x1="432.10" y1="743.10" x2="440.25" y2="743.10" stroke="#000" stroke-width="1.7"/>
<line x1="432.10" y1="786.20" x2="439.40" y2="786.20" stroke="#000" stroke-width="1.7"/>
<line x1="432.10" y1="829.10" x2="439.40" y2="829.10" stroke="#000" stroke-width="1.7"/>
<line x1="432.10" y1="872.10" x2="439.40" y2="872.10" stroke="#000" stroke-width="1.7"/>
<line x1="432.10" y1="915.10" x2="525.10" y2="915.10" stroke="#000" stroke-width="2"/>
<line x1="463.20" y1="915.10" x2="463.20" y2="923.10" stroke="#000" stroke-width="2"/>
<line x1="499.30" y1="915.10" x2="499.30" y2="923.10" stroke="#000" stroke-width="2"/>
<line x1="463.20" y1="911.00" x2="463.20" y2="905.50" stroke="#333" stroke-width="1.3"/>
<line x1="457.20" y1="905.50" x2="469.20" y2="905.50" stroke="#111" stroke-width="1.3"/>
<line x1="499.30" y1="901.70" x2="499.30" y2="880.30" stroke="#333" stroke-width="1.3"/>
<line x1="493.30" y1="880.30" x2="505.30" y2="880.30" stroke="#111" stroke-width="1.3"/>
<circle cx="454.60" cy="902.50" r="3.5" fill="#4f81bd"/>
<circle cx="460.50" cy="908.20" r="3.5" fill="#4f81bd"/>
<circle cx="454.60" cy="914.40" r="3.5" fill="#4f81bd"/>
<circle cx="466.20" cy="913.80" r="3.5" fill="#4f81bd"/>
<circle cx="471.70" cy="913.80" r="3.5" fill="#4f81bd"/>
<polygon points="495.80,862.00 502.80,862.00 499.30,868.60" fill="#4f81bd"/>
<polygon points="495.80,896.30 502.80,896.30 499.30,902.90" fill="#4f81bd"/>
<polygon points="495.80,908.60 502.80,908.60 499.30,915.20" fill="#4f81bd"/>
<polygon points="487.60,911.10 494.60,911.10 491.10,917.70" fill="#4f81bd"/>
<polygon points="504.60,911.10 511.60,911.10 508.10,917.70" fill="#4f81bd"/>
<rect x="592.60" y="913.10" width="21.80" height="2.20" fill="#ffffff" stroke="#000" stroke-width="2.2"/>
<rect x="628.80" y="913.60" width="21.80" height="1.70" fill="#616161" stroke="#000" stroke-width="2.2"/>
<line x1="579.30" y1="741.85" x2="579.30" y2="916.15" stroke="#000" stroke-width="1.7"/>
<line x1="572.00" y1="742.70" x2="580.15" y2="742.70" stroke="#000" stroke-width="1.7"/>
<line x1="572.00" y1="786.00" x2="579.30" y2="786.00" stroke="#000" stroke-width="1.7"/>
<line x1="572.00" y1="829.10" x2="579.30" y2="829.10" stroke="#000" stroke-width="1.7"/>
<line x1="572.00" y1="872.10" x2="579.30" y2="872.10" stroke="#000" stroke-width="1.7"/>
<line x1="572.00" y1="915.30" x2="665.00" y2="915.30" stroke="#000" stroke-width="2"/>
<line x1="603.50" y1="915.30" x2="603.50" y2="923.30" stroke="#000" stroke-width="2"/>
<line x1="639.70" y1="915.30" x2="639.70" y2="923.30" stroke="#000" stroke-width="2"/>
<circle cx="594.00" cy="914.30" r="3.4" fill="#000000"/>
<circle cx="598.00" cy="911.30" r="3.4" fill="#000000"/>
<circle cx="602.00" cy="914.00" r="3.4" fill="#000000"/>
<circle cx="606.30" cy="912.30" r="3.4" fill="#000000"/>
<circle cx="610.50" cy="914.30" r="3.4" fill="#000000"/>
<polygon points="627.70,910.20 634.30,910.20 631.00,916.20" fill="#000000"/>
<polygon points="631.50,909.20 638.10,909.20 634.80,915.20" fill="#000000"/>
<polygon points="635.30,910.20 641.90,910.20 638.60,916.20" fill="#000000"/>
<polygon points="639.10,909.20 645.70,909.20 642.40,915.20" fill="#000000"/>
<polygon points="642.90,910.20 649.50,910.20 646.20,916.20" fill="#000000"/>
<polygon points="645.50,909.90 652.10,909.90 648.80,915.90" fill="#000000"/>
<rect x="167.40" y="1106.90" width="21.20" height="33.20" fill="#ffffff" stroke="#000" stroke-width="2.8"/>
<rect x="204.10" y="1105.00" width="21.20" height="35.10" fill="#616161" stroke="#000" stroke-width="2.8"/>
<line x1="154.20" y1="966.05" x2="154.20" y2="1140.95" stroke="#000" stroke-width="1.7"/>
<line x1="146.90" y1="966.90" x2="155.05" y2="966.90" stroke="#000" stroke-width="1.7"/>
<line x1="146.90" y1="1001.50" x2="154.20" y2="1001.50" stroke="#000" stroke-width="1.7"/>
<line x1="146.90" y1="1036.10" x2="154.20" y2="1036.10" stroke="#000" stroke-width="1.7"/>
<line x1="146.90" y1="1070.70" x2="154.20" y2="1070.70" stroke="#000" stroke-width="1.7"/>
<line x1="146.90" y1="1105.00" x2="154.20" y2="1105.00" stroke="#000" stroke-width="1.7"/>
<line x1="146.90" y1="1140.10" x2="239.90" y2="1140.10" stroke="#000" stroke-width="2"/>
<text transform="translate(144.40,971.80) scale(1,1.035)" class="tk" text-anchor="end">5</text>
<text transform="translate(144.40,1006.40) scale(1,1.035)" class="tk" text-anchor="end">4</text>
<text transform="translate(144.40,1041.00) scale(1,1.035)" class="tk" text-anchor="end">3</text>
<text transform="translate(144.40,1075.60) scale(1,1.035)" class="tk" text-anchor="end">2</text>
<text transform="translate(144.40,1109.90) scale(1,1.035)" class="tk" text-anchor="end">1</text>
<text transform="translate(144.40,1145.00) scale(1,1.035)" class="tk" text-anchor="end">0</text>
<line x1="178.00" y1="1140.10" x2="178.00" y2="1148.10" stroke="#000" stroke-width="2"/>
<line x1="214.70" y1="1140.10" x2="214.70" y2="1148.10" stroke="#000" stroke-width="2"/>
<line x1="178.00" y1="1105.50" x2="178.00" y2="1095.80" stroke="#333" stroke-width="1.3"/>
<line x1="172.00" y1="1095.80" x2="184.00" y2="1095.80" stroke="#111" stroke-width="1.3"/>
<line x1="214.70" y1="1103.60" x2="214.70" y2="1086.40" stroke="#333" stroke-width="1.3"/>
<line x1="208.70" y1="1086.40" x2="220.70" y2="1086.40" stroke="#111" stroke-width="1.3"/>
<circle cx="169.20" cy="1091.90" r="3.5" fill="#ff0000"/>
<circle cx="178.20" cy="1097.30" r="3.5" fill="#ff0000"/>
<circle cx="169.20" cy="1103.90" r="3.5" fill="#ff0000"/>
<circle cx="186.70" cy="1106.90" r="3.5" fill="#ff0000"/>
<circle cx="178.20" cy="1109.40" r="3.5" fill="#ff0000"/>
<circle cx="178.20" cy="1119.20" r="3.5" fill="#ff0000"/>
<polygon points="211.00,1075.30 218.00,1075.30 214.50,1081.90" fill="#ff0000"/>
<polygon points="211.00,1082.60 218.00,1082.60 214.50,1089.20" fill="#ff0000"/>
<polygon points="202.60,1106.40 209.60,1106.40 206.10,1113.00" fill="#ff0000"/>
<polygon points="219.70,1105.00 226.70,1105.00 223.20,1111.60" fill="#ff0000"/>
<polygon points="219.70,1112.30 226.70,1112.30 223.20,1118.90" fill="#ff0000"/>
<polygon points="202.60,1117.70 209.60,1117.70 206.10,1124.30" fill="#ff0000"/>
<rect x="310.25" y="1024.30" width="18.70" height="118.70" fill="#ffffff" stroke="#000" stroke-width="2.8"/>
<rect x="344.65" y="1049.00" width="18.70" height="94.00" fill="#616161" stroke="#000" stroke-width="2.8"/>
<line x1="297.00" y1="980.25" x2="297.00" y2="1143.85" stroke="#000" stroke-width="1.7"/>
<line x1="289.70" y1="981.10" x2="297.85" y2="981.10" stroke="#000" stroke-width="1.7"/>
<line x1="289.70" y1="1013.90" x2="297.00" y2="1013.90" stroke="#000" stroke-width="1.7"/>
<line x1="289.70" y1="1046.00" x2="297.00" y2="1046.00" stroke="#000" stroke-width="1.7"/>
<line x1="289.70" y1="1078.10" x2="297.00" y2="1078.10" stroke="#000" stroke-width="1.7"/>
<line x1="289.70" y1="1110.20" x2="297.00" y2="1110.20" stroke="#000" stroke-width="1.7"/>
<line x1="289.70" y1="1143.00" x2="376.60" y2="1143.00" stroke="#000" stroke-width="2"/>
<line x1="319.50" y1="1143.00" x2="319.50" y2="1151.00" stroke="#000" stroke-width="2"/>
<line x1="353.50" y1="1143.00" x2="353.50" y2="1151.00" stroke="#000" stroke-width="2"/>
<line x1="319.60" y1="1022.90" x2="319.60" y2="1000.70" stroke="#333" stroke-width="1.3"/>
<line x1="314.10" y1="1000.70" x2="325.10" y2="1000.70" stroke="#111" stroke-width="1.3"/>
<line x1="354.00" y1="1047.60" x2="354.00" y2="1024.80" stroke="#333" stroke-width="1.3"/>
<line x1="348.50" y1="1024.80" x2="359.50" y2="1024.80" stroke="#111" stroke-width="1.3"/>
<circle cx="319.50" cy="994.60" r="3.5" fill="#f79646"/>
<circle cx="319.50" cy="1003.30" r="3.5" fill="#f79646"/>
<circle cx="319.50" cy="1016.10" r="3.5" fill="#f79646"/>
<circle cx="319.50" cy="1029.90" r="3.5" fill="#f79646"/>
<circle cx="319.50" cy="1040.50" r="3.5" fill="#f79646"/>
<circle cx="319.50" cy="1049.20" r="3.5" fill="#f79646"/>
<polygon points="350.00,1003.80 357.00,1003.80 353.50,1010.40" fill="#f79646"/>
<polygon points="350.00,1035.90 357.00,1035.90 353.50,1042.50" fill="#f79646"/>
<polygon points="342.00,1052.90 349.00,1052.90 345.50,1059.50" fill="#f79646"/>
<polygon points="358.00,1047.10 365.00,1047.10 361.50,1053.70" fill="#f79646"/>
<polygon points="358.00,1053.90 365.00,1053.90 361.50,1060.50" fill="#f79646"/>
<polygon points="350.00,1067.30 357.00,1067.30 353.50,1073.90" fill="#f79646"/>
<rect x="452.60" y="1102.10" width="21.20" height="37.90" fill="#ffffff" stroke="#000" stroke-width="2.8"/>
<rect x="488.70" y="1109.80" width="21.20" height="30.20" fill="#616161" stroke="#000" stroke-width="2.8"/>
<line x1="439.40" y1="966.95" x2="439.40" y2="1140.85" stroke="#000" stroke-width="1.7"/>
<line x1="432.10" y1="967.80" x2="440.25" y2="967.80" stroke="#000" stroke-width="1.7"/>
<line x1="432.10" y1="1001.90" x2="439.40" y2="1001.90" stroke="#000" stroke-width="1.7"/>
<line x1="432.10" y1="1036.70" x2="439.40" y2="1036.70" stroke="#000" stroke-width="1.7"/>
<line x1="432.10" y1="1071.00" x2="439.40" y2="1071.00" stroke="#000" stroke-width="1.7"/>
<line x1="432.10" y1="1105.40" x2="439.40" y2="1105.40" stroke="#000" stroke-width="1.7"/>
<line x1="432.10" y1="1140.00" x2="525.10" y2="1140.00" stroke="#000" stroke-width="2"/>
<line x1="463.20" y1="1140.00" x2="463.20" y2="1148.00" stroke="#000" stroke-width="2"/>
<line x1="499.30" y1="1140.00" x2="499.30" y2="1148.00" stroke="#000" stroke-width="2"/>
<line x1="463.20" y1="1100.70" x2="463.20" y2="1081.50" stroke="#333" stroke-width="1.3"/>
<line x1="457.20" y1="1081.50" x2="469.20" y2="1081.50" stroke="#111" stroke-width="1.3"/>
<line x1="499.30" y1="1108.40" x2="499.30" y2="1094.40" stroke="#333" stroke-width="1.3"/>
<line x1="493.30" y1="1094.40" x2="505.30" y2="1094.40" stroke="#111" stroke-width="1.3"/>
<circle cx="463.10" cy="1068.40" r="3.5" fill="#4f81bd"/>
<circle cx="463.10" cy="1088.00" r="3.5" fill="#4f81bd"/>
<circle cx="463.10" cy="1103.70" r="3.5" fill="#4f81bd"/>
<circle cx="463.10" cy="1110.50" r="3.5" fill="#4f81bd"/>
<circle cx="454.60" cy="1115.40" r="3.5" fill="#4f81bd"/>
<circle cx="471.70" cy="1113.30" r="3.5" fill="#4f81bd"/>
<polygon points="495.80,1086.70 502.80,1086.70 499.30,1093.30" fill="#4f81bd"/>
<polygon points="487.60,1100.00 494.60,1100.00 491.10,1106.60" fill="#4f81bd"/>
<polygon points="504.60,1100.00 511.60,1100.00 508.10,1106.60" fill="#4f81bd"/>
<polygon points="495.80,1111.20 502.80,1111.20 499.30,1117.80" fill="#4f81bd"/>
<polygon points="495.80,1122.90 502.80,1122.90 499.30,1129.50" fill="#4f81bd"/>
<rect x="592.90" y="1128.00" width="21.20" height="12.10" fill="#ffffff" stroke="#000" stroke-width="2.8"/>
<rect x="629.10" y="1131.30" width="21.20" height="8.80" fill="#616161" stroke="#000" stroke-width="2.8"/>
<line x1="579.30" y1="966.95" x2="579.30" y2="1140.95" stroke="#000" stroke-width="1.7"/>
<line x1="572.00" y1="967.80" x2="580.15" y2="967.80" stroke="#000" stroke-width="1.7"/>
<line x1="572.00" y1="1001.90" x2="579.30" y2="1001.90" stroke="#000" stroke-width="1.7"/>
<line x1="572.00" y1="1036.70" x2="579.30" y2="1036.70" stroke="#000" stroke-width="1.7"/>
<line x1="572.00" y1="1071.00" x2="579.30" y2="1071.00" stroke="#000" stroke-width="1.7"/>
<line x1="572.00" y1="1105.40" x2="579.30" y2="1105.40" stroke="#000" stroke-width="1.7"/>
<line x1="572.00" y1="1140.10" x2="665.00" y2="1140.10" stroke="#000" stroke-width="2"/>
<line x1="603.50" y1="1140.10" x2="603.50" y2="1148.10" stroke="#000" stroke-width="2"/>
<line x1="639.70" y1="1140.10" x2="639.70" y2="1148.10" stroke="#000" stroke-width="2"/>
<line x1="603.50" y1="1126.60" x2="603.50" y2="1120.80" stroke="#333" stroke-width="1.3"/>
<line x1="597.50" y1="1120.80" x2="609.50" y2="1120.80" stroke="#111" stroke-width="1.3"/>
<line x1="639.70" y1="1129.90" x2="639.70" y2="1124.50" stroke="#333" stroke-width="1.3"/>
<line x1="633.70" y1="1124.50" x2="645.70" y2="1124.50" stroke="#111" stroke-width="1.3"/>
<circle cx="603.20" cy="1115.60" r="3.5" fill="#000000"/>
<circle cx="594.00" cy="1127.50" r="3.5" fill="#000000"/>
<circle cx="598.50" cy="1125.20" r="3.5" fill="#000000"/>
<circle cx="603.20" cy="1127.50" r="3.5" fill="#000000"/>
<circle cx="608.00" cy="1125.50" r="3.5" fill="#000000"/>
<circle cx="612.50" cy="1128.50" r="3.5" fill="#000000"/>
<polygon points="635.90,1115.70 642.90,1115.70 639.40,1122.30" fill="#000000"/>
<polygon points="628.00,1127.80 635.00,1127.80 631.50,1134.40" fill="#000000"/>
<polygon points="632.50,1126.80 639.50,1126.80 636.00,1133.40" fill="#000000"/>
<polygon points="637.00,1129.30 644.00,1129.30 640.50,1135.90" fill="#000000"/>
<polygon points="641.50,1126.80 648.50,1126.80 645.00,1133.40" fill="#000000"/>
<polygon points="645.00,1128.30 652.00,1128.30 648.50,1134.90" fill="#000000"/>
<rect x="203.35" y="1214.70" width="21.70" height="57.90" fill="#616161"/>
<polyline points="203.35,1272.60 203.35,1214.70 225.05,1214.70 225.05,1272.60" fill="none" stroke="#000" stroke-width="2.8"/>
<rect x="203.35" y="1285.70" width="21.70" height="80.80" fill="#616161"/>
<line x1="203.35" y1="1285.70" x2="203.35" y2="1366.50" stroke="#000" stroke-width="2.8"/>
<line x1="225.05" y1="1285.70" x2="225.05" y2="1366.50" stroke="#000" stroke-width="2.8"/>
<line x1="153.50" y1="1285.90" x2="153.50" y2="1367.35" stroke="#000" stroke-width="1.7"/>
<line x1="149.20" y1="1285.90" x2="157.80" y2="1285.90" stroke="#000" stroke-width="1.7"/>
<line x1="153.50" y1="1191.05" x2="153.50" y2="1272.60" stroke="#000" stroke-width="1.7"/>
<line x1="146.20" y1="1191.90" x2="154.35" y2="1191.90" stroke="#000" stroke-width="1.7"/>
<line x1="146.20" y1="1220.90" x2="153.50" y2="1220.90" stroke="#000" stroke-width="1.7"/>
<line x1="146.20" y1="1249.50" x2="153.50" y2="1249.50" stroke="#000" stroke-width="1.7"/>
<line x1="149.20" y1="1272.60" x2="157.80" y2="1272.60" stroke="#000" stroke-width="1.7"/>
<line x1="146.20" y1="1366.50" x2="239.20" y2="1366.50" stroke="#000" stroke-width="2"/>
<text transform="translate(143.70,1196.80) scale(1,1.035)" class="tk" text-anchor="end">0.015</text>
<text transform="translate(143.70,1225.80) scale(1,1.035)" class="tk" text-anchor="end">0.010</text>
<text transform="translate(143.70,1254.40) scale(1,1.035)" class="tk" text-anchor="end">0.005</text>
<text transform="translate(143.70,1290.80) scale(1,1.035)" class="tk" text-anchor="end">0.0005</text>
<text transform="translate(143.70,1371.40) scale(1,1.035)" class="tk" text-anchor="end">0.0000</text>
<line x1="177.70" y1="1366.50" x2="177.70" y2="1374.50" stroke="#000" stroke-width="2"/>
<line x1="214.20" y1="1366.50" x2="214.20" y2="1374.50" stroke="#000" stroke-width="2"/>
<polygon points="211.20,1209.10 217.60,1209.10 214.40,1214.70" fill="#ff0000"/>
<text transform="translate(177.70,1364.80) scale(1,1.035)" class="nd" text-anchor="middle" textLength="22.7" lengthAdjust="spacingAndGlyphs">N/D</text>
<rect x="347.70" y="1264.60" width="21.20" height="8.80" fill="#616161"/>
<polyline points="347.70,1273.40 347.70,1264.60 368.90,1264.60 368.90,1273.40" fill="none" stroke="#000" stroke-width="2.8"/>
<rect x="347.70" y="1286.70" width="21.20" height="79.80" fill="#616161"/>
<line x1="347.70" y1="1286.70" x2="347.70" y2="1366.50" stroke="#000" stroke-width="2.8"/>
<line x1="368.90" y1="1286.70" x2="368.90" y2="1366.50" stroke="#000" stroke-width="2.8"/>
<line x1="298.00" y1="1286.70" x2="298.00" y2="1367.35" stroke="#000" stroke-width="1.7"/>
<line x1="293.70" y1="1286.70" x2="302.30" y2="1286.70" stroke="#000" stroke-width="1.7"/>
<line x1="298.00" y1="1193.25" x2="298.00" y2="1273.80" stroke="#000" stroke-width="1.7"/>
<line x1="290.70" y1="1194.10" x2="298.85" y2="1194.10" stroke="#000" stroke-width="1.7"/>
<line x1="290.70" y1="1222.70" x2="298.00" y2="1222.70" stroke="#000" stroke-width="1.7"/>
<line x1="290.70" y1="1251.40" x2="298.00" y2="1251.40" stroke="#000" stroke-width="1.7"/>
<line x1="293.70" y1="1273.80" x2="302.30" y2="1273.80" stroke="#000" stroke-width="1.7"/>
<line x1="290.70" y1="1366.50" x2="383.70" y2="1366.50" stroke="#000" stroke-width="2"/>
<line x1="322.20" y1="1366.50" x2="322.20" y2="1374.50" stroke="#000" stroke-width="2"/>
<line x1="358.40" y1="1366.50" x2="358.40" y2="1374.50" stroke="#000" stroke-width="2"/>
<line x1="350.30" y1="1261.50" x2="366.30" y2="1261.50" stroke="#222" stroke-width="1.3"/>
<polygon points="346.20,1260.50 353.20,1260.50 349.70,1267.10" fill="#f79646"/>
<polygon points="363.60,1258.50 370.60,1258.50 367.10,1265.10" fill="#f79646"/>
<text transform="translate(321.50,1364.40) scale(1,1.035)" class="nd" text-anchor="middle" textLength="22.7" lengthAdjust="spacingAndGlyphs">N/D</text>
<line x1="439.40" y1="1286.70" x2="439.40" y2="1367.35" stroke="#000" stroke-width="1.7"/>
<line x1="435.10" y1="1286.70" x2="443.70" y2="1286.70" stroke="#000" stroke-width="1.7"/>
<line x1="439.40" y1="1192.45" x2="439.40" y2="1273.40" stroke="#000" stroke-width="1.7"/>
<line x1="432.10" y1="1193.30" x2="440.25" y2="1193.30" stroke="#000" stroke-width="1.7"/>
<line x1="432.10" y1="1221.90" x2="439.40" y2="1221.90" stroke="#000" stroke-width="1.7"/>
<line x1="432.10" y1="1250.50" x2="439.40" y2="1250.50" stroke="#000" stroke-width="1.7"/>
<line x1="435.10" y1="1273.40" x2="443.70" y2="1273.40" stroke="#000" stroke-width="1.7"/>
<line x1="432.10" y1="1366.50" x2="525.10" y2="1366.50" stroke="#000" stroke-width="2"/>
<line x1="463.20" y1="1366.50" x2="463.20" y2="1374.50" stroke="#000" stroke-width="2"/>
<line x1="499.30" y1="1366.50" x2="499.30" y2="1374.50" stroke="#000" stroke-width="2"/>
<text transform="translate(463.20,1364.40) scale(1,1.035)" class="nd" text-anchor="middle" textLength="22.7" lengthAdjust="spacingAndGlyphs">N/D</text>
<text transform="translate(499.30,1364.40) scale(1,1.035)" class="nd" text-anchor="middle" textLength="22.7" lengthAdjust="spacingAndGlyphs">N/D</text>
<rect x="592.60" y="1365.60" width="21.80" height="0.90" fill="#ffffff" stroke="#000" stroke-width="2.2"/>
<rect x="629.10" y="1355.60" width="21.20" height="10.90" fill="#616161" stroke="#000" stroke-width="2.8"/>
<line x1="579.30" y1="1286.70" x2="579.30" y2="1367.35" stroke="#000" stroke-width="1.7"/>
<line x1="575.00" y1="1286.70" x2="583.60" y2="1286.70" stroke="#000" stroke-width="1.7"/>
<line x1="579.30" y1="1193.25" x2="579.30" y2="1273.80" stroke="#000" stroke-width="1.7"/>
<line x1="572.00" y1="1194.10" x2="580.15" y2="1194.10" stroke="#000" stroke-width="1.7"/>
<line x1="572.00" y1="1222.70" x2="579.30" y2="1222.70" stroke="#000" stroke-width="1.7"/>
<line x1="572.00" y1="1251.40" x2="579.30" y2="1251.40" stroke="#000" stroke-width="1.7"/>
<line x1="575.00" y1="1273.80" x2="583.60" y2="1273.80" stroke="#000" stroke-width="1.7"/>
<line x1="572.00" y1="1366.50" x2="665.00" y2="1366.50" stroke="#000" stroke-width="2"/>
<line x1="603.50" y1="1366.50" x2="603.50" y2="1374.50" stroke="#000" stroke-width="2"/>
<line x1="639.70" y1="1366.50" x2="639.70" y2="1374.50" stroke="#000" stroke-width="2"/>
<line x1="639.70" y1="1354.20" x2="639.70" y2="1343.80" stroke="#333" stroke-width="1.3"/>
<line x1="633.70" y1="1343.80" x2="645.70" y2="1343.80" stroke="#111" stroke-width="1.3"/>
<circle cx="603.20" cy="1365.40" r="3.5" fill="#000000"/>
<polygon points="627.30,1339.20 634.30,1339.20 630.80,1345.80" fill="#000000"/>
<polygon points="644.70,1342.30 651.70,1342.30 648.20,1348.90" fill="#000000"/>
<polygon points="627.30,1347.30 634.30,1347.30 630.80,1353.90" fill="#000000"/>
<polygon points="631.50,1359.60 638.50,1359.60 635.00,1366.20" fill="#000000"/>
<polygon points="639.60,1359.60 646.60,1359.60 643.10,1366.20" fill="#000000"/>
</svg></body></html>
